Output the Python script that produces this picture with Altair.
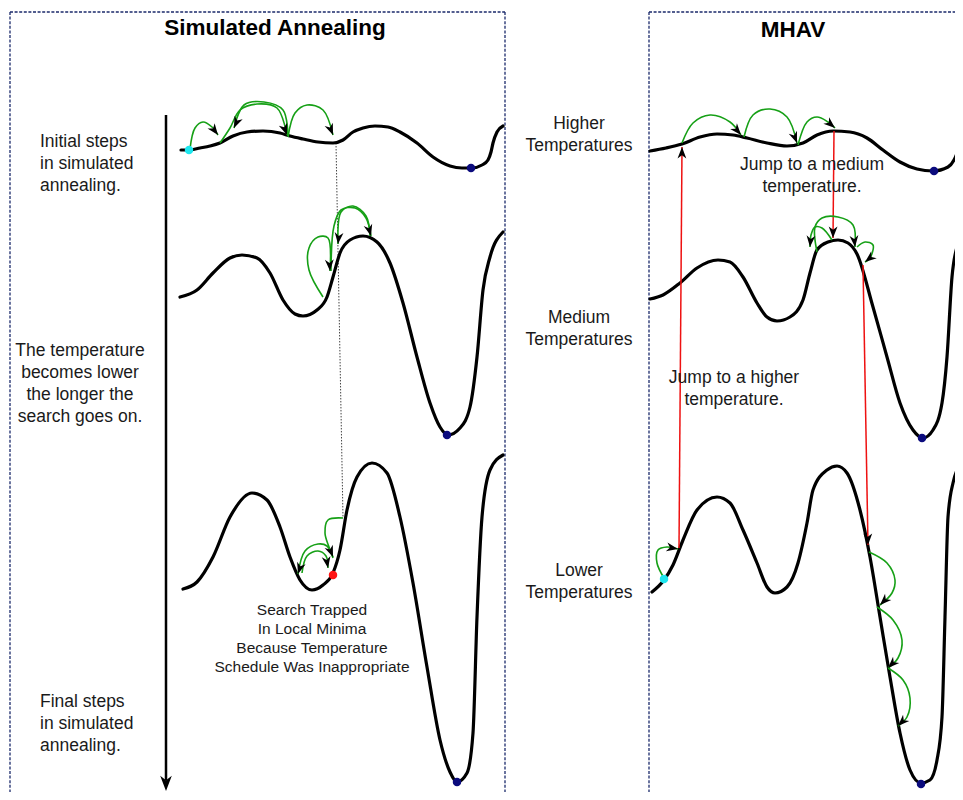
import math
import altair as alt
import pandas as pd

FONT = "Liberation Sans"

# ---------------- landscapes (page units, y grows downward) ----------------
tl_x = [181, 189, 200, 210, 220, 233, 247, 263, 280, 290, 303, 318, 333, 343, 353, 363, 375, 388, 400, 417, 433, 450, 462, 472, 482, 488, 491, 493, 497, 503]
tl_y = [150, 150, 148, 146, 143, 136, 132, 131, 133, 136, 139, 142, 143, 140, 132, 128, 126, 127, 132, 143, 157, 166, 168, 168, 165, 160, 152, 143, 132, 126]

ml_x = [180, 197, 213, 230, 242, 257, 270, 283, 295, 303, 317, 327, 333, 340, 350, 363, 377, 390, 403, 417, 430, 440, 448, 460, 470, 477, 483, 490, 503]
ml_y = [297, 290, 273, 258, 255, 258, 273, 300, 314, 316, 310, 297, 277, 253, 240, 236, 242, 263, 303, 357, 403, 427, 435, 428, 407, 357, 290, 257, 232]

bl_x = [183, 197, 213, 230, 252, 267, 280, 290, 300, 312, 323, 333, 340, 347, 357, 372, 387, 400, 413, 427, 440, 450, 457, 467, 473, 477, 482, 490, 503]
bl_y = [589, 582, 557, 517, 493, 500, 527, 557, 580, 590, 585, 573, 550, 510, 477, 463, 473, 517, 583, 667, 740, 772, 782, 773, 733, 617, 517, 470, 455]

tr_x = [650, 666, 682, 700, 717, 733, 747, 767, 787, 803, 817, 833, 850, 867, 883, 900, 917, 933, 948, 954, 958, 960, 963]
tr_y = [151, 148, 144, 137, 134, 135, 138, 143, 146, 143, 135, 131, 132, 138, 150, 162, 169, 171, 167, 160, 150, 142, 135]

mr_x = [650, 663, 680, 697, 718, 730, 743, 757, 767, 777, 790, 803, 810, 817, 828, 838, 848, 857, 873, 887, 900, 913, 923, 933, 942, 947, 952, 957, 963]
mr_y = [299, 295, 283, 268, 260, 262, 277, 303, 317, 321, 317, 300, 273, 250, 242, 240, 243, 254, 307, 357, 403, 430, 438, 430, 403, 357, 277, 247, 237]

lr_x = [652, 664, 673, 683, 697, 717, 730, 743, 757, 767, 775, 787, 798, 807, 813, 827, 837, 847, 860, 870, 880, 890, 900, 910, 921, 930, 937, 942, 945, 948, 953, 962]
lr_y = [592, 580, 565, 540, 510, 497, 503, 530, 563, 587, 593, 587, 563, 523, 490, 470, 466, 473, 510, 557, 617, 677, 733, 770, 783, 780, 760, 717, 617, 517, 483, 463]

# ---------------- local search steps (green arcs) ----------------
arc_names = ["a1", "a2", "a3", "a4", "b1", "b2", "b3", "c1", "c2", "c3",
             "d1", "d2", "d3", "e1", "e2", "e3", "f1", "f2", "f3", "f4"]
arc_xs = [
    [190, 195, 203, 212, 218],
    [220, 230, 240, 257, 277, 287],
    [288, 283, 264, 244, 234],
    [288, 295, 307, 323, 333],
    [323, 309, 309, 318, 328, 330],
    [331, 334, 341, 355, 366, 371],
    [370, 366, 353, 341, 338],
    [343, 328, 325, 329, 333],
    [333, 327, 318, 305, 298],
    [302, 307, 318, 326, 328],
    [682, 693, 710, 730, 741],
    [744, 753, 770, 787, 797],
    [798, 807, 817, 828, 835],
    [832, 822, 815, 811, 810],
    [817, 815, 822, 838, 853, 855],
    [857, 865, 873, 870, 865],
    [664, 657, 658, 667, 678],
    [869, 887, 895, 892, 880],
    [877, 893, 902, 898, 888],
    [888, 903, 910, 907, 898],
]
arc_ys = [
    [149, 128, 122, 127, 135],
    [143, 128, 110, 104, 108, 135],
    [136, 110, 102, 105, 128],
    [137, 113, 105, 110, 135],
    [297, 270, 248, 237, 238, 271],
    [271, 226, 210, 208, 218, 236],
    [236, 216, 206, 212, 244],
    [518, 520, 533, 547, 557],
    [558, 546, 544, 551, 574],
    [573, 556, 551, 556, 568],
    [143, 123, 115, 122, 135],
    [137, 115, 109, 117, 143],
    [145, 122, 117, 122, 128],
    [240, 228, 227, 235, 247],
    [252, 227, 218, 217, 225, 247],
    [247, 242, 245, 258, 262],
    [578, 563, 550, 547, 549],
    [552, 563, 580, 593, 605],
    [607, 620, 640, 658, 668],
    [668, 680, 698, 717, 726],
]

# ---------------- jumps between temperatures (red) ----------------
jump_x1 = [679, 834, 863]
jump_y1 = [548, 131, 265]
jump_x2 = [682, 833, 868]
jump_y2 = [147, 238, 545]

# ---------------- marked states ----------------
dot_x = [189, 471, 447, 333, 457, 934, 922, 664, 921]
dot_y = [150, 168, 435, 575, 782, 171, 438, 579, 784]
dot_c = ["#1ee6ee", "#0b0b7d", "#0b0b7d", "#ff1414", "#0b0b7d", "#0b0b7d", "#0b0b7d", "#1ee6ee", "#0b0b7d"]

# ---------------- texts ----------------
titles = ["Simulated Annealing", "MHAV"]
title_x = [275, 793]
title_y = [35, 37]

left_notes = ["Initial steps\nin simulated\nannealing.", "Final steps\nin simulated\nannealing."]
left_x = [40, 40]
left_y = [147, 707]

center_notes = ["The temperature\nbecomes lower\nthe longer the\nsearch goes on.",
                "Higher\nTemperatures", "Medium\nTemperatures", "Lower\nTemperatures",
                "Jump to a medium\ntemperature.", "Jump to a higher\ntemperature."]
center_x = [80, 579, 579, 579, 812, 734]
center_y = [356, 129, 323, 576, 170, 383]

trap_note = ["Search Trapped\nIn Local Minima\nBecause Temperature\nSchedule Was Inappropriate"]
trap_x = [312]
trap_y = [615]

# ---------------- frames / guides ----------------
frame_x1 = [10, 10, 505, 649, 649]
frame_y1 = [12, 12, 12, 12, 12]
frame_x2 = [505, 10, 505, 963, 649]
frame_y2 = [12, 800, 800, 12, 800]

trace_x1, trace_y1, trace_x2, trace_y2 = [336], [143], [343], [518]
time_x1, time_y1, time_x2, time_y2 = [166], [115], [166], [780]
time_tip_x, time_tip_y = [166], [791]

# ======================= build tables =======================
def curve_rows(name, xs, ys):
    return [{"id": name, "i": i, "x": x, "y": y} for i, (x, y) in enumerate(zip(xs, ys))]

curves = pd.DataFrame(
    curve_rows("tl", tl_x, tl_y) + curve_rows("ml", ml_x, ml_y) + curve_rows("bl", bl_x, bl_y)
    + curve_rows("tr", tr_x, tr_y) + curve_rows("mr", mr_x, mr_y) + curve_rows("lr", lr_x, lr_y)
)

arc_rows = []
for n, xs, ys in zip(arc_names, arc_xs, arc_ys):
    arc_rows += curve_rows(n, xs, ys)
arcs = pd.DataFrame(arc_rows)


def heading(xa, ya, xb, yb):
    return math.degrees(math.atan2(xb - xa, -(yb - ya))) % 360


heads = []
for xs, ys in zip(arc_xs, arc_ys):
    heads.append({"x": xs[-1], "y": ys[-1], "ang": heading(xs[-2], ys[-2], xs[-1], ys[-1])})
for a, b, c, d in zip(jump_x1, jump_y1, jump_x2, jump_y2):
    heads.append({"x": c, "y": d, "ang": heading(a, b, c, d)})
heads = pd.DataFrame(heads)
big_head = pd.DataFrame({"x": time_tip_x, "y": time_tip_y,
                         "ang": [heading(time_x1[0], time_y1[0], time_tip_x[0], time_tip_y[0])]})

jumps = pd.DataFrame({"x": jump_x1, "y": jump_y1, "x2": jump_x2, "y2": jump_y2})
frames = pd.DataFrame({"x": frame_x1, "y": frame_y1, "x2": frame_x2, "y2": frame_y2})
trace = pd.DataFrame({"x": trace_x1, "y": trace_y1, "x2": trace_x2, "y2": trace_y2})
timeline = pd.DataFrame({"x": time_x1, "y": time_y1, "x2": time_x2, "y2": time_y2})
dots = pd.DataFrame({"x": dot_x, "y": dot_y, "c": dot_c})

t_titles = pd.DataFrame({"x": title_x, "y": title_y, "t": titles})
t_left = pd.DataFrame({"x": left_x, "y": left_y, "t": left_notes})
t_center = pd.DataFrame({"x": center_x, "y": center_y, "t": center_notes})
t_trap = pd.DataFrame({"x": trap_x, "y": trap_y, "t": trap_note})

# ======================= chart =======================
W, H = 947, 784
XS = alt.Scale(domain=[8, 955], nice=False, zero=False)
YS = alt.Scale(domain=[8, 792], nice=False, zero=False, reverse=True)
X = alt.X("x:Q", scale=XS, axis=None)
Y = alt.Y("y:Q", scale=YS, axis=None)

ARROW = "M0,0L1.3,3.4L0,2.4L-1.3,3.4Z"

frame_layer = alt.Chart(frames).mark_rule(color="#1b2a6b", strokeWidth=1.3, strokeDash=[3, 1.6], clip=True).encode(
    x=X, y=Y, x2="x2:Q", y2="y2:Q")
trace_layer = alt.Chart(trace).mark_rule(color="#444444", strokeWidth=1, strokeDash=[1.5, 1.5]).encode(
    x=X, y=Y, x2="x2:Q", y2="y2:Q")
time_layer = alt.Chart(timeline).mark_rule(color="#000000", strokeWidth=2.5).encode(
    x=X, y=Y, x2="x2:Q", y2="y2:Q")
time_head = alt.Chart(big_head).mark_point(shape=ARROW, filled=True, color="#000000", size=80, opacity=1).encode(
    x=X, y=Y, angle=alt.Angle("ang:Q", scale=None))

curve_layer = alt.Chart(curves).mark_line(color="#000000", strokeWidth=3.2, interpolate="monotone",
                                          strokeCap="round", clip=True).encode(
    x=X, y=Y, detail="id:N", order="i:Q")
jump_layer = alt.Chart(jumps).mark_rule(color="#ee1111", strokeWidth=1.5).encode(
    x=X, y=Y, x2="x2:Q", y2="y2:Q")
arc_layer = alt.Chart(arcs).mark_line(color="#16a016", strokeWidth=1.6, interpolate="catmull-rom").encode(
    x=X, y=Y, detail="id:N", order="i:Q")
head_layer = alt.Chart(heads).mark_point(shape=ARROW, filled=True, color="#000000", size=46, opacity=1).encode(
    x=X, y=Y, angle=alt.Angle("ang:Q", scale=None))
dot_layer = alt.Chart(dots).mark_circle(size=72, opacity=1).encode(
    x=X, y=Y, color=alt.Color("c:N", scale=None))

title_layer = alt.Chart(t_titles).mark_text(font=FONT, fontSize=22.5, fontWeight="bold", align="center",
                                            baseline="alphabetic", color="#000000").encode(x=X, y=Y, text="t:N")
left_layer = alt.Chart(t_left).mark_text(font=FONT, fontSize=17.5, lineHeight=22, align="left",
                                         baseline="alphabetic", lineBreak="\n", color="#1a1a1a").encode(
    x=X, y=Y, text="t:N")
center_layer = alt.Chart(t_center).mark_text(font=FONT, fontSize=17.5, lineHeight=22, align="center",
                                             baseline="alphabetic", lineBreak="\n", color="#1a1a1a").encode(
    x=X, y=Y, text="t:N")
trap_layer = alt.Chart(t_trap).mark_text(font=FONT, fontSize=15.5, lineHeight=19, align="center",
                                         baseline="alphabetic", lineBreak="\n", color="#1a1a1a").encode(
    x=X, y=Y, text="t:N")

chart = alt.layer(
    frame_layer, trace_layer, time_layer, time_head,
    curve_layer, jump_layer, arc_layer, head_layer, dot_layer,
    title_layer, left_layer, center_layer, trap_layer,
).properties(
    width=W, height=H, padding=0, autosize=alt.AutoSizeParams(type="none"),
).configure_view(stroke=None)

chart.save("out.html", embed_options={"renderer": "svg", "actions": False})
